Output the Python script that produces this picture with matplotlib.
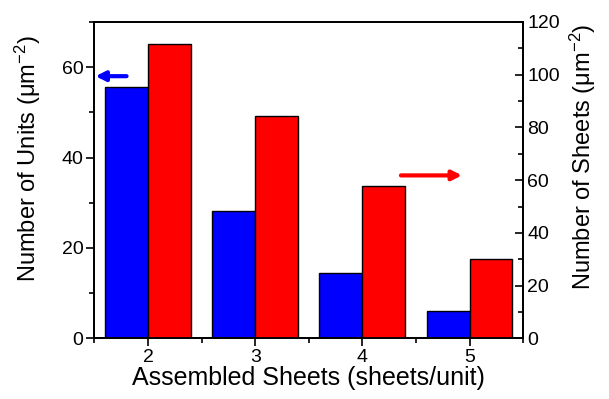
import numpy as np
import matplotlib
matplotlib.use('Agg')
import matplotlib.pyplot as plt
from matplotlib.ticker import MultipleLocator

plt.rcParams['font.family'] = ['Liberation Sans', 'DejaVu Sans']
plt.rcParams['mathtext.fontset'] = 'custom'
plt.rcParams['mathtext.rm'] = 'Liberation Sans'
plt.rcParams['mathtext.it'] = 'Liberation Sans:italic'

# 数据
sheets = [2, 3, 4, 5]
units = [55.7, 28.1, 14.4, 6.0]        # 左轴 (蓝)
sheet_density = [111.5, 84.2, 57.7, 30.0]  # 右轴 (红)

fig = plt.figure(figsize=(6.09, 3.99), dpi=100)
ax = fig.add_axes([0.155, 0.152, 0.704, 0.793])
ax2 = ax.twinx()

x = np.array(sheets)
w = 0.4
ax.bar(x - w / 2, units, width=w, color='#0000ff', edgecolor='black', linewidth=1, zorder=2)
ax2.bar(x + w / 2, sheet_density, width=w, color='#ff0000', edgecolor='black', linewidth=1, zorder=2)

ax.set_xlim(1.5, 5.5)
ax.set_ylim(0, 70)
ax2.set_ylim(0, 120)

ax.set_xticks(sheets)
ax.xaxis.set_minor_locator(MultipleLocator(0.5))
ax.yaxis.set_major_locator(MultipleLocator(20))
ax.yaxis.set_minor_locator(MultipleLocator(10))
ax2.yaxis.set_major_locator(MultipleLocator(20))
ax2.yaxis.set_minor_locator(MultipleLocator(10))

ax.tick_params(axis='both', which='major', direction='out', length=6, width=1.2, labelsize=14, pad=2)
ax.tick_params(axis='both', which='minor', direction='out', length=3.5, width=1.2)
ax.tick_params(axis='x', top=False, which='both')
ax2.tick_params(axis='y', which='major', direction='in', length=6, width=1.2, labelsize=14, pad=3)
ax2.tick_params(axis='y', which='minor', direction='in', length=3.5, width=1.2)

for a in (ax, ax2):
    for s in a.spines.values():
        s.set_linewidth(1.3)

ax.set_xlabel('Assembled Sheets (sheets/unit)', fontsize=18, labelpad=0)
ax.set_ylabel('Number of Units (μm$^{\\mathrm{-2}}$)', fontsize=17)
ax2.set_ylabel('Number of Sheets (μm$^{\\mathrm{-2}}$)', fontsize=17)
ax.yaxis.label.set(ha='center', va='center')
ax2.yaxis.label.set(ha='center', va='center')
ax.yaxis.set_label_coords(-0.156, 0.568)
ax2.yaxis.set_label_coords(1.140, 0.575)

# 箭头
ax.annotate('', xy=(1.51, 58), xytext=(1.8, 58),
            arrowprops=dict(arrowstyle='-|>', color='#0000ff', lw=3, mutation_scale=14, shrinkA=0, shrinkB=0))
ax2.annotate('', xy=(4.93, 61.8), xytext=(4.36, 61.8),
             arrowprops=dict(arrowstyle='-|>', color='#ff0000', lw=3, mutation_scale=14, shrinkA=0, shrinkB=0))

fig.savefig('out.png', dpi=100)
